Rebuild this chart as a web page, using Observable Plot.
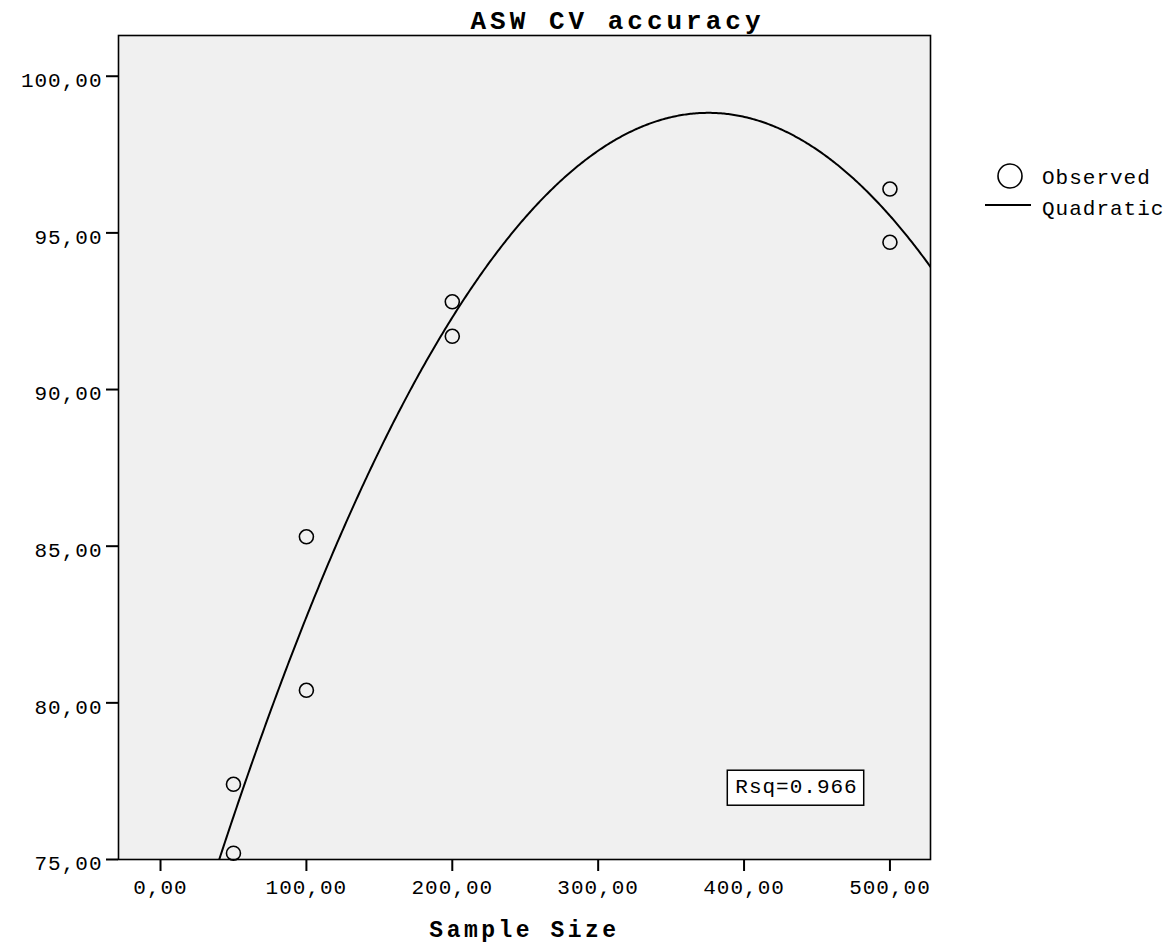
<!DOCTYPE html>
<html>
<head>
<meta charset="utf-8">
<script src="https://cdn.jsdelivr.net/npm/d3@7"></script>
<script src="https://cdn.jsdelivr.net/npm/@observablehq/plot@0.6"></script>
<style>
  html, body { margin: 0; padding: 0; background: #fff; }
  #chart svg text { letter-spacing: 1px; }
  #chart text[aria-label="title"] { letter-spacing: 4px; }
  #chart text[aria-label="x-label"] { letter-spacing: 3.5px; }
  #chart g[aria-label="x-axis tick"], #chart g[aria-label="y-axis tick"] { stroke-width: 2px; }
</style>
</head>
<body>
<div id="chart"></div>
<script>
// ---- data ----
const sampleSize = [50, 50, 100, 100, 200, 200, 500, 500];
const accuracy   = [77.4, 75.2, 85.3, 80.4, 92.8, 91.7, 96.4, 94.7];
const xTicks = [0, 100, 200, 300, 400, 500];
const yTicks = [75, 80, 85, 90, 95, 100];
const xDomain = [-28.8, 527.8];
const yDomain = [75, 101.3];
const titleText = "ASW CV accuracy";
const xLabel = "Sample Size";
const legendLabels = ["Observed", "Quadratic"];
const rsqLabel = "Rsq=0.966";

// ---- quadratic least-squares fit of the observed points ----
function quadFit(xs, ys) {
  const S = k => d3.sum(xs, x => Math.pow(x, k));
  const T = k => d3.sum(xs, (x, i) => Math.pow(x, k) * ys[i]);
  const A = [[S(0), S(1), S(2), T(0)], [S(1), S(2), S(3), T(1)], [S(2), S(3), S(4), T(2)]];
  for (let i = 0; i < 3; i++) {
    for (let j = i + 1; j < 3; j++) {
      const f = A[j][i] / A[i][i];
      for (let k = i; k < 4; k++) A[j][k] -= f * A[i][k];
    }
  }
  const c = [0, 0, 0];
  for (let i = 2; i >= 0; i--) {
    let s = A[i][3];
    for (let k = i + 1; k < 3; k++) s -= A[i][k] * c[k];
    c[i] = s / A[i][i];
  }
  return c;
}
const coef = quadFit(sampleSize, accuracy);
const observed = sampleSize.map((x, i) => ({x, y: accuracy[i]}));
const curveX = d3.range(xDomain[0], xDomain[1], 1).concat([xDomain[1]]);
const curve = curveX.map(x => ({x, y: coef[0] + coef[1] * x + coef[2] * x * x}));

const fmt = v => v.toFixed(2).replace(".", ",");

const plot = Plot.plot({
  width: 1169,
  height: 950,
  marginLeft: 118,
  marginRight: 239,
  marginTop: 35,
  marginBottom: 91,
  style: {fontFamily: "'Liberation Mono', monospace", fontSize: "21px", color: "#000", background: "#fff"},
  x: {domain: xDomain, label: null},
  y: {domain: yDomain, label: null},
  marks: [
    Plot.frame({fill: "#f0f0f0", stroke: "none"}),
    Plot.line(curve, {x: "x", y: "y", stroke: "#000", strokeWidth: 2, clip: true}),
    Plot.dot(observed, {x: "x", y: "y", r: 7, stroke: "#000", strokeWidth: 1.6, fill: "none"}),
    Plot.frame({stroke: "#000", strokeWidth: 1.6}),
    Plot.axisX({ticks: xTicks, tickFormat: fmt, tickSize: 12, tickPadding: 8, label: null}),
    Plot.axisY({ticks: yTicks, tickFormat: () => "", tickSize: 12, label: null}),
    Plot.axisY({ticks: yTicks, tickFormat: fmt, tickSize: 0, tickPadding: 16, dy: 4, label: null}),
    Plot.text([titleText], {text: d => d, frameAnchor: "top", dx: 93, dy: -7, lineAnchor: "bottom",
      fontWeight: "bold", fontSize: 26, ariaLabel: () => "title"}),
    Plot.text([xLabel], {text: d => d, frameAnchor: "bottom", dy: 77, lineAnchor: "bottom",
      fontWeight: "bold", fontSize: 23, ariaLabel: () => "x-label"}),
    Plot.text([rsqLabel], {text: d => d, frameAnchor: "bottom-right", dx: -134, dy: -73,
      lineAnchor: "middle", textAnchor: "middle", ariaLabel: () => "rsq"})
  ]
});

document.getElementById("chart").appendChild(plot);

// Rsq box behind its label
const svg = d3.select(plot);
const rsqNode = plot.querySelector('text[aria-label="rsq"]');
if (rsqNode) {
  const bb = rsqNode.getBBox();
  d3.select(rsqNode.parentNode).insert("rect", () => rsqNode)
    .attr("x", bb.x - 8).attr("y", bb.y - 6)
    .attr("width", bb.width + 14).attr("height", bb.height + 12)
    .attr("transform", rsqNode.getAttribute("transform"))
    .attr("fill", "#fff").attr("stroke", "#000").attr("stroke-width", 1.5);
}

// legend
const lg = svg.append("g").attr("aria-label", "legend").attr("font-size", 21).attr("text-anchor", "start");
lg.append("circle").attr("cx", 1010).attr("cy", 176).attr("r", 12)
  .attr("fill", "none").attr("stroke", "#000").attr("stroke-width", 1.6);
lg.append("line").attr("x1", 985).attr("x2", 1031).attr("y1", 205).attr("y2", 205)
  .attr("stroke", "#000").attr("stroke-width", 2);
lg.selectAll("text").data(legendLabels).join("text")
  .attr("x", 1042).attr("y", (d, i) => i === 0 ? 177 : 208)
  .attr("dy", "0.35em").attr("fill", "#000").text(d => d);
</script>
</body>
</html>
